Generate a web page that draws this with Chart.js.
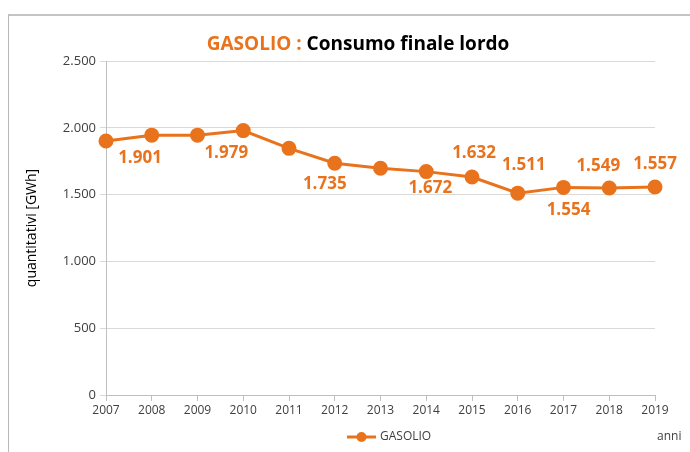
<!DOCTYPE html>
<html>
<head>
<meta charset="utf-8">
<script src="https://cdn.jsdelivr.net/npm/chart.js@4"></script>
<style>
  html, body { margin: 0; padding: 0; background: #fff; }
  #wrap { position: relative; width: 690px; height: 452px; overflow: hidden; }
  #frame { position: absolute; left: 8px; top: 14px; width: 700px; height: 460px;
           border-left: 1px solid #b8b8b8; border-top: 2px solid #c4c4c4; box-sizing: border-box; }
  canvas { position: absolute; left: 0; top: 0; }
</style>
</head>
<body>
<div id="wrap">
  <div id="frame"></div>
  <canvas id="c" width="690" height="452"></canvas>
</div>
<script>
const years = ['2007','2008','2009','2010','2011','2012','2013','2014','2015','2016','2017','2018','2019'];
const gasolio = [1901, 1945, 1945, 1979, 1846, 1735, 1697, 1672, 1632, 1511, 1554, 1549, 1557];
const dataLabels = ['1.901', null, null, '1.979', null, '1.735', null, '1.672', '1.632', '1.511', '1.554', '1.549', '1.557'];
const yTicks = [0, 500, 1000, 1500, 2000, 2500];

const labelOffsets = [[34,17],null,null,[-17,23],null,[-10,21],null,[4,17],[2,-24],[6,-28],[5,23],[-11,-22],[0,-23]];
const ORANGE = '#E8731C';

function fmt(v) { return String(v).replace(/\B(?=(\d{3})+(?!\d))/g, '.'); }

const decor = {
  id: 'decor',
  afterDraw(chart) {
    const ctx = chart.ctx;
    const meta = chart.getDatasetMeta(0);
    ctx.save();
    ctx.font = 'bold 17px "Open Sans", sans-serif';
    ctx.fillStyle = ORANGE;
    ctx.textAlign = 'center';
    ctx.textBaseline = 'middle';
    meta.data.forEach((pt, i) => {
      if (!dataLabels[i]) return;
      const o = labelOffsets[i];
      ctx.fillText(dataLabels[i], pt.x + o[0], pt.y + o[1]);
    });
    ctx.font = 'bold 19px "Open Sans", sans-serif';
    ctx.textAlign = 'left';
    const t1 = 'GASOLIO : ', t2 = 'Consumo finale lordo';
    const w1 = ctx.measureText(t1).width, w2 = ctx.measureText(t2).width;
    const x0 = 358 - (w1 + w2) / 2;
    ctx.fillStyle = ORANGE; ctx.fillText(t1, x0, 45);
    ctx.fillStyle = '#000'; ctx.fillText(t2, x0 + w1, 45);
    ctx.strokeStyle = ORANGE; ctx.lineWidth = 3;
    ctx.beginPath(); ctx.moveTo(347, 437); ctx.lineTo(376, 437); ctx.stroke();
    ctx.fillStyle = ORANGE;
    ctx.beginPath(); ctx.arc(361.5, 437, 5, 0, Math.PI * 2); ctx.fill();
    ctx.font = '12px "Open Sans", sans-serif';
    ctx.fillStyle = '#404040';
    ctx.fillText('GASOLIO', 380, 437);
    ctx.fillText('anni', 657, 437);
    ctx.restore();
  }
};

new Chart(document.getElementById('c'), {
  type: 'line',
  data: {
    labels: years,
    datasets: [{
      label: 'GASOLIO',
      data: gasolio,
      borderColor: ORANGE,
      backgroundColor: ORANGE,
      borderWidth: 3,
      pointRadius: 6,
      pointBackgroundColor: ORANGE,
      pointBorderColor: ORANGE,
      tension: 0
    }]
  },
  options: {
    responsive: false,
    animation: false,
    layout: { padding: { left: 24, right: 35, top: 61, bottom: 0 } },
    plugins: { legend: { display: false }, title: { display: false }, tooltip: { enabled: false } },
    scales: {
      x: {
        offset: false,
        grid: { display: true, drawOnChartArea: false, drawTicks: true, tickLength: 6, color: '#bfbfbf' },
        border: { color: '#bfbfbf' },
        ticks: { color: '#404040', font: { family: '"Open Sans", sans-serif', size: 12 }, padding: 2, maxRotation: 0, autoSkip: false },
        afterFit(s) { s.height = 57; }
      },
      y: {
        min: 0, max: 2500,
        afterBuildTicks(s) { s.ticks = yTicks.map(v => ({ value: v })); },
        grid: { color: '#d9d9d9', tickLength: 6, drawTicks: true },
        border: { color: '#bfbfbf' },
        ticks: { color: '#404040', font: { family: '"Open Sans", sans-serif', size: 13 }, padding: 4, callback: v => fmt(v) },
        title: { display: true, text: 'quantitativi [GWh]', color: '#000', font: { family: '"Open Sans", sans-serif', size: 14 }, padding: 0 },
        afterFit(s) { s.width = 82; }
      }
    }
  },
  plugins: [decor]
});
</script>
</body>
</html>
